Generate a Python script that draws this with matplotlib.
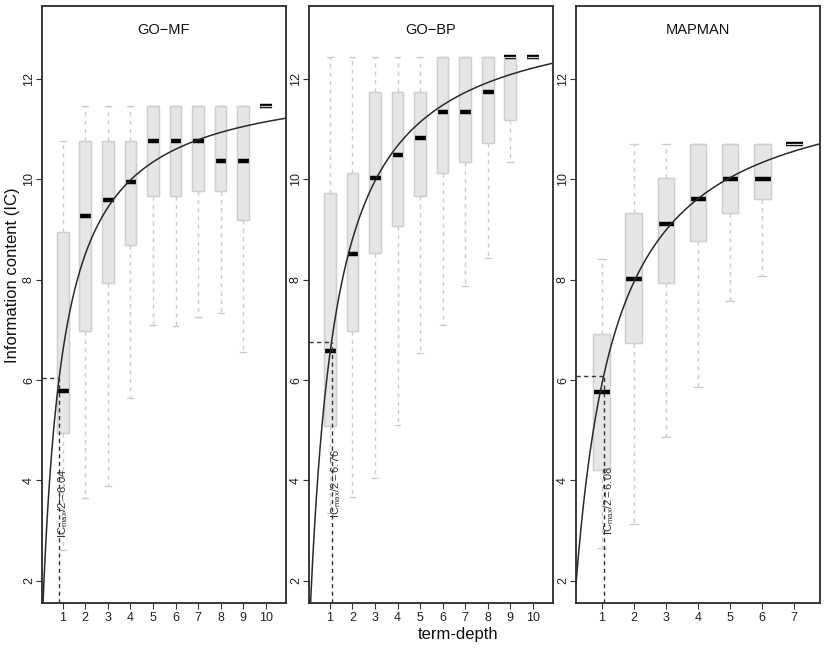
import numpy as np
import matplotlib
matplotlib.use("Agg")
import matplotlib.pyplot as plt
from matplotlib.patches import PathPatch

plt.rcParams['font.family'] = ['Liberation Sans', 'DejaVu Sans']
plt.rcParams['mathtext.fontset'] = 'custom'
plt.rcParams['mathtext.rm'] = 'Liberation Sans'
plt.rcParams['mathtext.it'] = 'Liberation Sans:italic'

titles = ["GO\u2212MF", "GO\u2212BP", "MAPMAN"]

# GO-MF
mf_depth = [1, 2, 3, 4, 5, 6, 7, 8, 9, 10]
mf_whislo = [2.62, 3.66, 3.90, 5.64, 7.10, 7.07, 7.25, 7.33, 6.56, 11.46]
mf_q1 = [4.94, 6.98, 7.94, 8.69, 9.67, 9.67, 9.76, 9.76, 9.18, 11.46]
mf_med = [5.78, 9.27, 9.59, 9.95, 10.77, 10.77, 10.77, 10.37, 10.37, 11.46]
mf_q3 = [8.95, 10.77, 10.77, 10.77, 11.46, 11.46, 11.46, 11.46, 11.46, 11.46]
mf_whishi = [10.77, 11.46, 11.46, 11.46, 11.46, 11.46, 11.46, 11.46, 11.46, 11.46]
mf_half, mf_k = 6.04, 0.84

# GO-BP
bp_depth = [1, 2, 3, 4, 5, 6, 7, 8, 9, 10]
bp_whislo = [3.36, 3.68, 4.05, 5.11, 6.54, 7.10, 7.88, 8.44, 10.34, 12.43]
bp_q1 = [5.09, 6.98, 8.53, 9.06, 9.66, 10.12, 10.34, 10.72, 11.18, 12.43]
bp_med = [6.58, 8.51, 10.03, 10.48, 10.82, 11.33, 11.33, 11.73, 12.43, 12.43]
bp_q3 = [9.72, 10.12, 11.73, 11.73, 11.73, 12.43, 12.43, 12.43, 12.43, 12.43]
bp_whishi = [12.43, 12.43, 12.43, 12.43, 12.43, 12.43, 12.43, 12.43, 12.43, 12.43]
bp_half, bp_k = 6.76, 1.07

# MAPMAN
mm_depth = [1, 2, 3, 4, 5, 6, 7]
mm_whislo = [2.66, 3.14, 4.86, 5.86, 7.58, 8.08, 10.71]
mm_q1 = [4.21, 6.73, 7.94, 8.77, 9.32, 9.61, 10.71]
mm_med = [5.77, 8.01, 9.11, 9.61, 10.01, 10.01, 10.71]
mm_q3 = [6.91, 9.32, 10.02, 10.71, 10.71, 10.71, 10.71]
mm_whishi = [8.41, 10.71, 10.71, 10.71, 10.71, 10.71, 10.71]
mm_half, mm_k = 6.08, 1.06

yticks = [2, 4, 6, 8, 10, 12]

panels = [
    (mf_depth, mf_whislo, mf_q1, mf_med, mf_q3, mf_whishi, mf_half, mf_k, (0.08, 10.9), 3.55, 0.16),
    (bp_depth, bp_whislo, bp_q1, bp_med, bp_q3, bp_whishi, bp_half, bp_k, (0.07, 10.9), 3.93, 0.22),
    (mm_depth, mm_whislo, mm_q1, mm_med, mm_q3, mm_whishi, mm_half, mm_k, (0.2, 7.8), 3.6, 0.16),
]

W, H = 827, 648
fig = plt.figure(figsize=(W / 100, H / 100), dpi=100)
lefts = [42, 309, 576]
ylim = (1.56, 13.45)

for i, (dep, wl, q1, md, q3, wh, half, k, xl, ty, tdx) in enumerate(panels):
    ax = fig.add_axes([lefts[i] / W, (H - 603) / H, 244 / W, 597 / H])
    stats = [dict(whislo=a, q1=b, med=c, q3=d, whishi=e) for a, b, c, d, e in zip(wl, q1, md, q3, wh)]
    res = ax.bxp(stats, positions=dep, widths=0.52, patch_artist=True, showfliers=False,
                 boxprops=dict(facecolor='#e6e6e6', edgecolor='#d6d6d6', linewidth=1.0),
                 whiskerprops=dict(color='#cccccc', linestyle=(0, (3, 3)), linewidth=1.0),
                 capprops=dict(color='#cccccc', linewidth=1.0),
                 medianprops=dict(color='black', linewidth=3.2, solid_capstyle='butt'),
                 manage_ticks=False)
    for b in res['boxes']:
        b.set_zorder(2)
        ax.add_patch(PathPatch(b.get_path(), fill=False, edgecolor='#cfcfcf', linewidth=0.9, zorder=4))
    for m in res['medians']:
        m.set_zorder(3)

    ax.set_xlim(*xl)
    ax.set_ylim(*ylim)
    icmax = 2 * half
    xs = np.linspace(xl[0], xl[1], 400)
    ax.plot(xs, icmax * xs / (k + xs), color='#2a2a2a', linewidth=1.1, zorder=5)
    ax.plot([xl[0], k], [half, half], color='#333333', linestyle=(0, (3, 2.5)), linewidth=1.0, zorder=5)
    ax.plot([k, k], [ylim[0], half], color='#333333', linestyle=(0, (3, 2.5)), linewidth=1.0, zorder=5)
    ax.text(k + tdx, ty,
            r'$\mathrm{IC_{max}/2 = %.2f}$' % half, rotation=90, fontsize=8,
            ha='center', va='center', color='#333333', zorder=6)

    ax.set_title(titles[i], fontsize=10.5, pad=-20, y=1.0, color='#111111')
    ax.set_xticks(dep)
    ax.set_xticklabels([str(d) for d in dep], fontsize=9)
    ax.set_yticks(yticks)
    ax.set_yticklabels([str(t) for t in yticks], fontsize=9, rotation=90, va='center')
    ax.tick_params(axis='both', direction='out', length=4.3, width=0.8, colors='#333333', labelcolor='#222222')
    ax.tick_params(axis='y', pad=0.8)
    ax.tick_params(axis='x', pad=2)
    for s in ax.spines.values():
        s.set_linewidth(1.3)
        s.set_color('#2a2a2a')

fig.text(13 / W, 1 - 275 / H, 'Information content (IC)', rotation=90, fontsize=12,
         ha='center', va='center', color='#111111')
fig.text(458 / W, 1 - 634 / H, 'term-depth', fontsize=12, ha='center', va='center', color='#111111')

fig.savefig('out.png', dpi=100)
